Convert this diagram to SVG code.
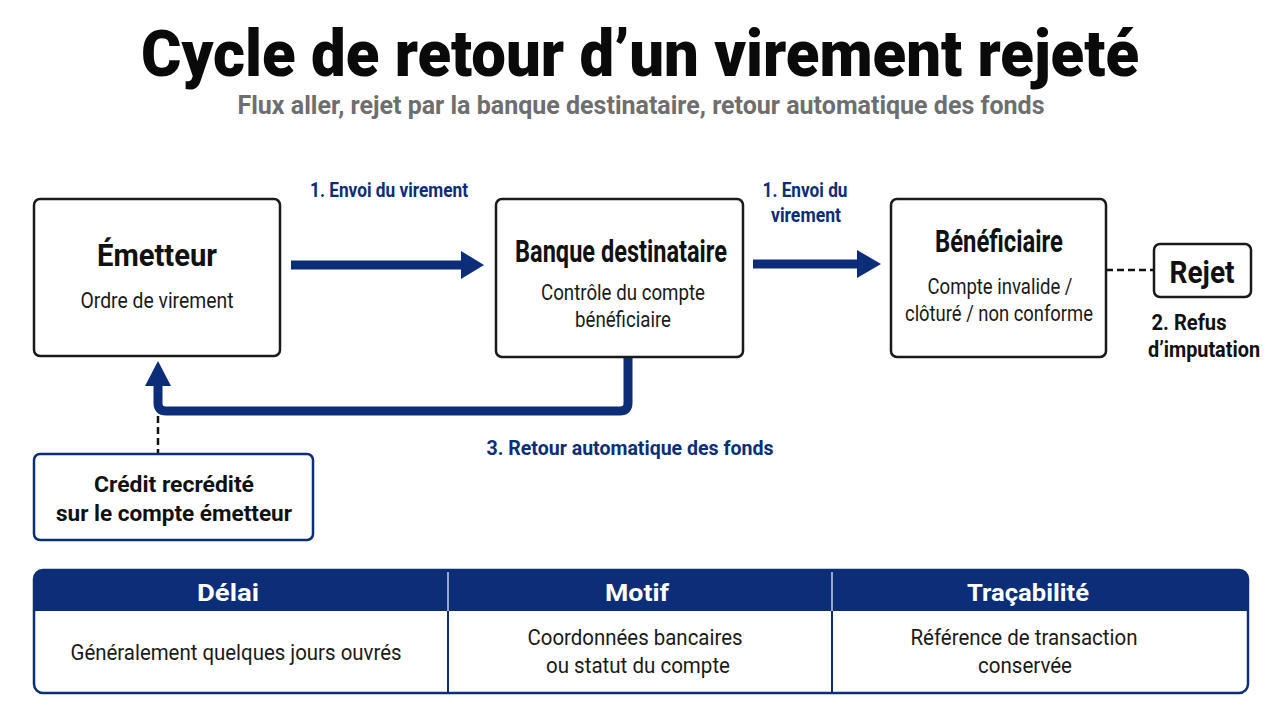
<svg xmlns="http://www.w3.org/2000/svg" width="1280" height="720" viewBox="0 0 1280 720">
<defs>
<style>
text{font-family:"Roboto","Liberation Sans",sans-serif;text-anchor:middle}
.title{font-size:64px;font-weight:900;fill:#0a0a0a}
.sub{font-size:26px;font-weight:700;fill:#6e6e6e}
.nt{font-size:31px;font-weight:700;fill:#111}
.nb{font-size:22px;font-weight:400;fill:#1a1a1a}
.lbl{font-size:20px;font-weight:700;fill:#0c2d78}
.blk{font-size:22px;font-weight:700;fill:#111}
.box{fill:#fff;stroke:#1a1a1a;stroke-width:2.5}
.bluebox{fill:#fff;stroke:#0c2d78;stroke-width:2.5}
.flow{stroke:#0c2d78;stroke-width:9;fill:none}
.head{fill:#0c2d78}
.dash{stroke:#111;stroke-width:2.5;stroke-dasharray:7 4;fill:none}
.th{font-size:24px;font-weight:700;fill:#fff}
.td{font-size:22px;font-weight:400;fill:#1a1a1a}
</style>
</defs>
<rect width="1280" height="720" fill="#fff"/>
<g id="title">
<text class="title" x="640" y="76" textLength="998" lengthAdjust="spacingAndGlyphs">Cycle de retour d’un virement rejeté</text>
<text class="sub" x="641" y="114" textLength="807" lengthAdjust="spacingAndGlyphs">Flux aller, rejet par la banque destinataire, retour automatique des fonds</text>
</g>
<g id="connectors">
<line class="flow" x1="291" y1="265" x2="464" y2="265"/>
<polygon class="head" points="461,251 484,265 461,279"/>
<text class="lbl" x="389" y="197" textLength="158" lengthAdjust="spacingAndGlyphs">1. Envoi du virement</text>
<line class="flow" x1="753" y1="264" x2="860" y2="264"/>
<polygon class="head" points="857,250 881,264 857,278"/>
<text class="lbl" x="805" y="197" textLength="85" lengthAdjust="spacingAndGlyphs">1. Envoi du</text>
<text class="lbl" x="806" y="222" textLength="70" lengthAdjust="spacingAndGlyphs">virement</text>
<path class="flow" d="M628,357 V403 Q628,411 620,411 H166 Q158,411 158,403 V383"/>
<polygon class="head" points="145,386 158,361 171,386"/>
<text class="lbl" x="630" y="455" textLength="287" lengthAdjust="spacingAndGlyphs">3. Retour automatique des fonds</text>
<line class="dash" x1="158" y1="416" x2="158" y2="454"/>
<line class="dash" x1="1106" y1="270" x2="1154" y2="270"/>
</g>
<g id="emetteur">
<rect class="box" x="34" y="199" width="246" height="157" rx="6"/>
<text class="nt" x="157" y="266" textLength="120" lengthAdjust="spacingAndGlyphs">Émetteur</text>
<text class="nb" x="157" y="308" textLength="153" lengthAdjust="spacingAndGlyphs">Ordre de virement</text>
</g>
<g id="banque">
<rect class="box" x="496" y="199" width="247" height="158" rx="6"/>
<text class="nt" x="621" y="262" font-size="28" textLength="212" lengthAdjust="spacingAndGlyphs">Banque destinataire</text>
<text class="nb" x="623" y="300" textLength="164" lengthAdjust="spacingAndGlyphs">Contrôle du compte</text>
<text class="nb" x="623" y="327" textLength="96" lengthAdjust="spacingAndGlyphs">bénéficiaire</text>
</g>
<g id="beneficiaire">
<rect class="box" x="891" y="199" width="215" height="158" rx="6"/>
<text class="nt" x="999" y="252" font-size="28" textLength="128" lengthAdjust="spacingAndGlyphs">Bénéficiaire</text>
<text class="nb" x="1000" y="294" textLength="145" lengthAdjust="spacingAndGlyphs">Compte invalide /</text>
<text class="nb" x="999" y="321" textLength="188" lengthAdjust="spacingAndGlyphs">clôturé / non conforme</text>
</g>
<g id="rejet">
<rect class="box" x="1154" y="244" width="97" height="53" rx="6"/>
<text class="nt" x="1202" y="283" textLength="65" lengthAdjust="spacingAndGlyphs">Rejet</text>
<text class="blk" x="1189" y="330" textLength="75" lengthAdjust="spacingAndGlyphs">2. Refus</text>
<text class="blk" x="1204" y="357" textLength="112" lengthAdjust="spacingAndGlyphs">d’imputation</text>
</g>
<g id="credit">
<rect class="bluebox" x="34" y="454" width="279" height="86" rx="6"/>
<text class="blk" x="174" y="492" font-size="24" textLength="160" lengthAdjust="spacingAndGlyphs">Crédit recrédité</text>
<text class="blk" x="174" y="521" font-size="24" textLength="236" lengthAdjust="spacingAndGlyphs">sur le compte émetteur</text>
</g>
<g id="table">
<path d="M34,611 V579 Q34,570 43,570 H1239 Q1248,570 1248,579 V611 Z" fill="#0c2d78"/>
<rect x="34" y="570" width="1214" height="123" rx="9" fill="none" stroke="#0c2d78" stroke-width="2.5"/>
<line x1="448" y1="570" x2="448" y2="693" stroke="#0c2d78" stroke-width="2"/>
<line x1="832" y1="570" x2="832" y2="693" stroke="#0c2d78" stroke-width="2"/>
<line x1="448" y1="572" x2="448" y2="611" stroke="#c8d0e0" stroke-width="1.5"/>
<line x1="832" y1="572" x2="832" y2="611" stroke="#c8d0e0" stroke-width="1.5"/>
<text class="th" x="228" y="601" textLength="62" lengthAdjust="spacingAndGlyphs">Délai</text>
<text class="th" x="637" y="601" textLength="64" lengthAdjust="spacingAndGlyphs">Motif</text>
<text class="th" x="1028" y="601" textLength="122" lengthAdjust="spacingAndGlyphs">Traçabilité</text>
<text class="td" x="236" y="660" textLength="331" lengthAdjust="spacingAndGlyphs">Généralement quelques jours ouvrés</text>
<text class="td" x="635" y="645" textLength="215" lengthAdjust="spacingAndGlyphs">Coordonnées bancaires</text>
<text class="td" x="638" y="673" textLength="184" lengthAdjust="spacingAndGlyphs">ou statut du compte</text>
<text class="td" x="1024" y="645" textLength="227" lengthAdjust="spacingAndGlyphs">Référence de transaction</text>
<text class="td" x="1025" y="673" textLength="94" lengthAdjust="spacingAndGlyphs">conservée</text>
</g>
</svg>
